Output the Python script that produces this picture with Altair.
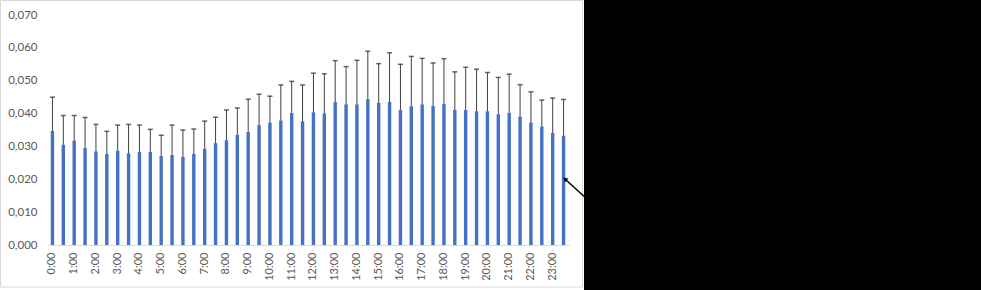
import altair as alt
import pandas as pd

times = [f"{h}:{m:02d}" for h in range(24) for m in (0, 30)]

means = [0.0347, 0.0305, 0.0318, 0.0295, 0.0285, 0.0277, 0.0287, 0.0279, 0.0283, 0.0283, 0.0271, 0.0274,
         0.0268, 0.0277, 0.0293, 0.0310, 0.0319, 0.0335, 0.0344, 0.0365, 0.0373, 0.0379, 0.0402, 0.0377,
         0.0404, 0.0401, 0.0435, 0.0428, 0.0428, 0.0444, 0.0432, 0.0435, 0.0411, 0.0422, 0.0428, 0.0423,
         0.0429, 0.0411, 0.0411, 0.0407, 0.0407, 0.0398, 0.0402, 0.0391, 0.0373, 0.0361, 0.0341, 0.0333]

errors = [0.0103, 0.0089, 0.0076, 0.0093, 0.0082, 0.0069, 0.0078, 0.0088, 0.0082, 0.0069, 0.0063, 0.0091,
          0.0082, 0.0076, 0.0084, 0.0079, 0.0092, 0.0082, 0.0100, 0.0094, 0.0080, 0.0108, 0.0096, 0.0110,
          0.0119, 0.0120, 0.0126, 0.0115, 0.0134, 0.0146, 0.0120, 0.0150, 0.0139, 0.0152, 0.0140, 0.0131,
          0.0138, 0.0116, 0.0130, 0.0128, 0.0118, 0.0112, 0.0118, 0.0097, 0.0093, 0.0080, 0.0106, 0.0110]

y_ticks = [0.0, 0.01, 0.02, 0.03, 0.04, 0.05, 0.06, 0.07]

df = pd.DataFrame({"time": times, "mean": means, "err": errors})

FONT = "Lato"
GRAY = "#595959"

x_axis = alt.Axis(
    labelAngle=-90, labelFont=FONT, labelFontSize=11, labelColor=GRAY,
    labelExpr="indexof(datum.label, ':30') > 0 ? '' : datum.label",
    ticks=False, labelPadding=7, domainColor="#d9d9d9", domainWidth=1,
    grid=False, labelOverlap=False,
)
x_scale = alt.Scale(paddingInner=0, paddingOuter=0)
y_scale = alt.Scale(domain=[0, 0.07], nice=False)
y_axis = alt.Axis(
    values=y_ticks, tickCount=8,
    labelExpr="replace(format(datum.value, '.3f'), '.', ',')",
    labelFont=FONT, labelFontSize=11.5, labelColor=GRAY,
    ticks=False, domain=False, grid=False, labelPadding=10,
    labelOverlap=False, labelFlush=False, labelBound=False,
)


def X():
    return alt.X("time:N", sort=times, title=None, scale=x_scale, axis=x_axis)


base = alt.Chart(df).transform_calculate(top="datum.mean + datum.err")

bars = base.mark_bar(size=3.4, color="#4472C4").encode(
    x=X(),
    y=alt.Y("mean:Q", scale=y_scale, axis=y_axis, title=None),
)

err_rule = base.mark_rule(color="#404040", strokeWidth=1).encode(
    x=X(),
    y=alt.Y("mean:Q", scale=y_scale, axis=y_axis, title=None),
    y2=alt.Y2("top:Q"),
)

caps = base.mark_tick(color="#262626", size=5, thickness=1.5, orient="horizontal").encode(
    x=X(),
    y=alt.Y("top:Q", scale=y_scale, axis=y_axis, title=None),
)

one = alt.Data(values=[{"k": 1}])

border = alt.Chart(one).mark_rect(fill="transparent", stroke="#d9d9d9", strokeWidth=1).encode(
    x=alt.value(-46.5), x2=alt.value(535.5), y=alt.value(-14.5), y2=alt.value(272)
)

black = alt.Chart(one).mark_rect(color="black").encode(
    x=alt.value(537), x2=alt.value(940), y=alt.value(-20), y2=alt.value(280)
)

arrow_line = alt.Chart(one).mark_rule(color="black", strokeWidth=1.5).encode(
    x=alt.value(540), x2=alt.value(519), y=alt.value(184), y2=alt.value(165)
)

arrow_head = alt.Chart(one).mark_point(
    shape="triangle", filled=True, color="black", size=28, angle=312, opacity=1
).encode(x=alt.value(518.5), y=alt.value(164.5))

chart = alt.layer(bars, err_rule, caps, border, black, arrow_line, arrow_head).properties(
    width=522, height=230,
    padding={"left": 47, "top": 15, "right": 412, "bottom": 45},
    autosize="none",
    background="white",
).configure_view(stroke=None)

chart.save("out.html", embed_options={"renderer": "svg", "actions": False})
